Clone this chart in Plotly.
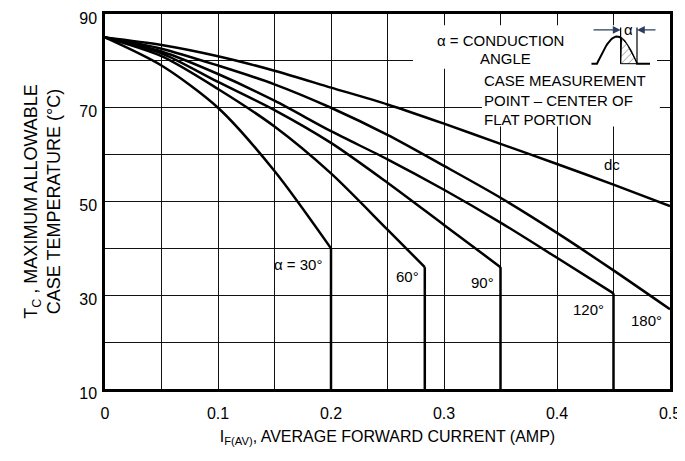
import plotly.graph_objects as go
import numpy as np

# ---- data ----
Y_MIN, Y_MAX = 10, 90
X_MIN, X_MAX = 0, 0.5

dc_x = [0, 0.05, 0.1, 0.15, 0.2, 0.25, 0.3, 0.35, 0.4, 0.45, 0.5]
dc_y = [85, 83.4, 81.0, 77.9, 74.3, 70.7, 66.6, 62.3, 58.0, 53.6, 49.0]

a180_x = [0, 0.05, 0.1, 0.15, 0.2, 0.25, 0.3, 0.35, 0.4, 0.45, 0.5]
a180_y = [85, 82.6, 79.0, 75.0, 70.0, 64.2, 57.6, 50.8, 43.3, 35.3, 27.0]

a120_x = [0, 0.05, 0.1, 0.15, 0.2, 0.25, 0.3, 0.35, 0.4, 0.45]
a120_y = [85, 82.0, 77.2, 71.5, 65.0, 59.0, 52.5, 45.5, 38.0, 30.4]

a90_x = [0, 0.05, 0.1, 0.15, 0.2, 0.25, 0.3, 0.35]
a90_y = [85, 81.6, 75.5, 69.5, 62.5, 54.0, 45.0, 36.0]

a60_x = [0, 0.05, 0.1, 0.15, 0.2, 0.25, 0.283]
a60_y = [85, 81.0, 74.0, 66.0, 56.0, 44.0, 36.0]

a30_x = [0, 0.05, 0.1, 0.15, 0.2]
a30_y = [85, 79.0, 70.0, 56.5, 40.0]

series = [
    ("dc", dc_x, dc_y, False),
    ("180°", a180_x, a180_y, False),
    ("120°", a120_x, a120_y, True),
    ("90°", a90_x, a90_y, True),
    ("60°", a60_x, a60_y, True),
    ("30°", a30_x, a30_y, True),
]

x_ticks = [0, 0.1, 0.2, 0.3, 0.4, 0.5]
x_ticktext = ["0", "0.1", "0.2", "0.3", "0.4", "0.5"]
y_ticks = [10, 30, 50, 70, 90]

FONT = "Liberation Sans, Arial, sans-serif"
FS = 15

fig = go.Figure()

for name, xs, ys, drop in series:
    fig.add_trace(go.Scatter(x=xs, y=ys, mode="lines",
                             line=dict(color="black", width=2.5, shape="spline", smoothing=0.8),
                             showlegend=False, hoverinfo="skip"))
    if drop:
        fig.add_trace(go.Scatter(x=[xs[-1], xs[-1]], y=[ys[-1], Y_MIN], mode="lines",
                                 line=dict(color="black", width=2.5), showlegend=False, hoverinfo="skip"))

# ---- white boxes behind the explanatory text (hide grid) ----
shapes = [
    dict(type="rect", xref="x", yref="y", x0=0.2726, x1=0.4885, y0=78.3, y1=87.6,
         fillcolor="white", line=dict(width=0), layer="between"),
    dict(type="rect", xref="x", yref="y", x0=0.3336, x1=0.491, y0=66.0, y1=79.5,
         fillcolor="white", line=dict(width=0), layer="between"),
]

# ---- waveform icon ----
base = 79.4
hx = np.linspace(0.4354, 0.4708, 40)
hy = base + 5.8 * np.sin(np.pi * (hx - 0.4354) / (0.4708 - 0.4354))
fig.add_trace(go.Scatter(x=[0.4305] + list(hx) + [0.4823], y=[base] + list(hy) + [base],
                         mode="lines", line=dict(color="black", width=2), showlegend=False, hoverinfo="skip"))
mask = hx >= 0.4563
fx = [0.4563] + list(hx[mask]) + [0.4708, 0.4563]
fy = [base] + list(hy[mask]) + [base, base]
fig.add_trace(go.Scatter(x=fx, y=fy, mode="lines", fill="toself", fillcolor="white",
                         fillpattern=dict(shape="/", fgcolor="black", bgcolor="white", size=5, solidity=0.15),
                         line=dict(color="black", width=1), showlegend=False, hoverinfo="skip"))
for vx in (0.4563, 0.4708):
    shapes.append(dict(type="line", xref="x", yref="y", x0=vx, x1=vx, y0=base, y1=87.1,
                       line=dict(color="black", width=1.2)))

annotations = [
    dict(x=0.4563, y=86.6, ax=0.4310, ay=86.6, xref="x", yref="y", axref="x", ayref="y",
         showarrow=True, arrowhead=2, arrowsize=1.3, arrowwidth=1.2, text=""),
    dict(x=0.4708, y=86.6, ax=0.4885, ay=86.6, xref="x", yref="y", axref="x", ayref="y",
         showarrow=True, arrowhead=2, arrowsize=1.3, arrowwidth=1.2, text=""),
    dict(x=0.4636, y=86.6, text="α", showarrow=False, font=dict(size=15)),
    dict(x=0.292, y=84.45, text="α = CONDUCTION", xanchor="left", showarrow=False),
    dict(x=0.330, y=80.6, text="ANGLE", xanchor="left", showarrow=False),
    dict(x=0.3336, y=71.65, text="CASE MEASUREMENT<br>POINT – CENTER OF<br>FLAT PORTION",
         xanchor="left", align="left", showarrow=False),
    dict(x=0.194, y=36.5, text="α = 30°", xanchor="right", showarrow=False),
    dict(x=0.268, y=33.9, text="60°", showarrow=False),
    dict(x=0.3345, y=32.8, text="90°", showarrow=False),
    dict(x=0.428, y=26.9, text="120°", showarrow=False),
    dict(x=0.479, y=24.7, text="180°", showarrow=False),
    dict(x=0.449, y=57.8, text="dc", showarrow=False),
]

# page body adds an 8px offset; size the figure so the plot lands where the reference has it
fig.update_layout(
    width=677, height=453,
    margin=dict(l=97, r=15, t=6, b=72),
    paper_bgcolor="white", plot_bgcolor="white",
    font=dict(family=FONT, size=FS, color="black"),
    shapes=shapes, annotations=annotations,
    showlegend=False,
)
fig.update_xaxes(
    range=[X_MIN, X_MAX], tickvals=x_ticks, ticktext=x_ticktext, ticks="", ticklabelstandoff=8,
    automargin=False, tickfont=dict(size=16), ticklabeloverflow="allow",
    showgrid=True, gridcolor="#111", gridwidth=1.2,
    minor=dict(dtick=0.05, tick0=0, showgrid=True, gridcolor="#111", gridwidth=1.2),
    showline=True, linecolor="black", linewidth=2.5, mirror=True, zeroline=False,
    title=dict(text="I<sub>F(AV)</sub>, AVERAGE FORWARD CURRENT (AMP)", font=dict(size=16), standoff=10),
)
fig.update_yaxes(
    range=[Y_MIN, Y_MAX], tickvals=y_ticks, ticks="", ticklabelstandoff=2,
    automargin=False, tickfont=dict(size=16), ticklabeloverflow="allow", ticklabelshift=4,
    showgrid=True, gridcolor="#111", gridwidth=1.2,
    minor=dict(dtick=10, tick0=10, showgrid=True, gridcolor="#111", gridwidth=1.2),
    showline=True, linecolor="black", linewidth=2.5, mirror=True, zeroline=False,
    title=dict(text="T<sub>C</sub> , MAXIMUM ALLOWABLE<br>CASE TEMPERATURE (°C)", font=dict(size=18), standoff=14),
)

fig.write_html("out.html")
